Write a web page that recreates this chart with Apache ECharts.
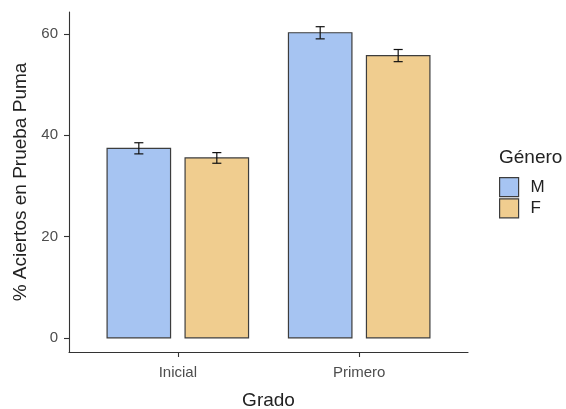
<!DOCTYPE html>
<html>
<head>
<meta charset="utf-8">
<script src="https://cdn.jsdelivr.net/npm/echarts@6/dist/echarts.min.js"></script>
<style>
html, body { margin: 0; padding: 0; background: #fff; }
#chart { width: 566px; height: 409px; }
</style>
</head>
<body>
<div id="chart"></div>
<script>
// Mean hit percentage on the Puma test by grade and gender, with standard errors
const grades = ['Inicial', 'Primero'];
const genders = ['M', 'F'];
const meanM = [37.4, 60.2];
const seM = [1.1, 1.2];
const meanF = [35.5, 55.7];
const seF = [1.05, 1.2];
const yTicks = [0, 20, 40, 60];

const fills = { M: '#a6c4f2', F: '#f0cd8f' };
const dodge = { M: -0.215, F: 0.215 };
const barHalf = 0.175;
const capHalf = 0.025;

function rows(means, ses) {
  return means.map((m, i) => [i + 1, m, ses[i]]);
}

function makeRender(gender) {
  return function (params, api) {
    const x = api.value(0) + dodge[gender];
    const y = api.value(1);
    const se = api.value(2);
    const p0 = api.coord([x - barHalf, y]);
    const p1 = api.coord([x + barHalf, 0]);
    const top = api.coord([x, y + se]);
    const bot = api.coord([x, y - se]);
    const capL = api.coord([x - capHalf, 0])[0];
    const capR = api.coord([x + capHalf, 0])[0];
    const line = { stroke: '#111', lineWidth: 1.2 };
    return {
      type: 'group',
      children: [
        { type: 'rect', shape: { x: p0[0], y: p0[1], width: p1[0] - p0[0], height: p1[1] - p0[1] },
          style: { fill: fills[gender], stroke: '#3d3d3d', lineWidth: 1.2 } },
        { type: 'line', shape: { x1: top[0], y1: top[1], x2: bot[0], y2: bot[1] }, style: line },
        { type: 'line', shape: { x1: capL, y1: top[1], x2: capR, y2: top[1] }, style: line },
        { type: 'line', shape: { x1: capL, y1: bot[1], x2: capR, y2: bot[1] }, style: line }
      ]
    };
  };
}

const font = 'Liberation Sans, Arial, sans-serif';
const chart = echarts.init(document.getElementById('chart'), null, { renderer: 'canvas' });

chart.setOption({
  animation: false,
  grid: { left: 69, right: 98, top: 12, bottom: 57, containLabel: false, outerBoundsMode: 'none' },
  xAxis: {
    type: 'value', min: 0.4, max: 2.6,
    name: 'Grado', nameLocation: 'middle', nameGap: 39,
    nameTextStyle: { fontFamily: font, fontSize: 19, color: '#222' },
    axisLine: { show: true, onZero: false, lineStyle: { color: '#333', width: 1.1 } },
    axisTick: { show: true, length: 5, customValues: [1, 2], lineStyle: { color: '#333', width: 1.1 } },
    axisLabel: { customValues: [1, 2], margin: 13, fontFamily: font, fontSize: 15, color: '#4d4d4d',
      formatter: v => grades[Math.round(v) - 1] },
    splitLine: { show: false }
  },
  yAxis: {
    type: 'value', min: -2.8, max: 64.3,
    name: '% Aciertos en Prueba Puma', nameLocation: 'middle', nameGap: 28,
    nameTextStyle: { fontFamily: font, fontSize: 19, color: '#222' },
    axisLine: { show: true, onZero: false, lineStyle: { color: '#333', width: 1.1 } },
    axisTick: { show: true, length: 5, customValues: yTicks, lineStyle: { color: '#333', width: 1.1 } },
    axisLabel: { customValues: yTicks, margin: 11, fontFamily: font, fontSize: 15, color: '#4d4d4d' },
    splitLine: { show: false }
  },
  legend: {
    data: genders, orient: 'vertical', left: 499, top: 177, padding: 0,
    icon: 'rect', itemWidth: 19, itemHeight: 19, itemGap: 1,
    itemStyle: { borderColor: '#3d3d3d', borderWidth: 1.2 },
    textStyle: { fontFamily: font, fontSize: 17, color: '#222', padding: [0, 0, 0, 7] }
  },
  graphic: [
    { type: 'text', left: 499, top: 148,
      style: { text: 'Género', fontFamily: font, fontSize: 19, fill: '#222' } }
  ],
  series: [
    { name: 'M', type: 'custom', itemStyle: { color: fills.M }, data: rows(meanM, seM),
      renderItem: makeRender('M'), encode: { x: 0, y: 1 } },
    { name: 'F', type: 'custom', itemStyle: { color: fills.F }, data: rows(meanF, seF),
      renderItem: makeRender('F'), encode: { x: 0, y: 1 } }
  ]
});
</script>
</body>
</html>
